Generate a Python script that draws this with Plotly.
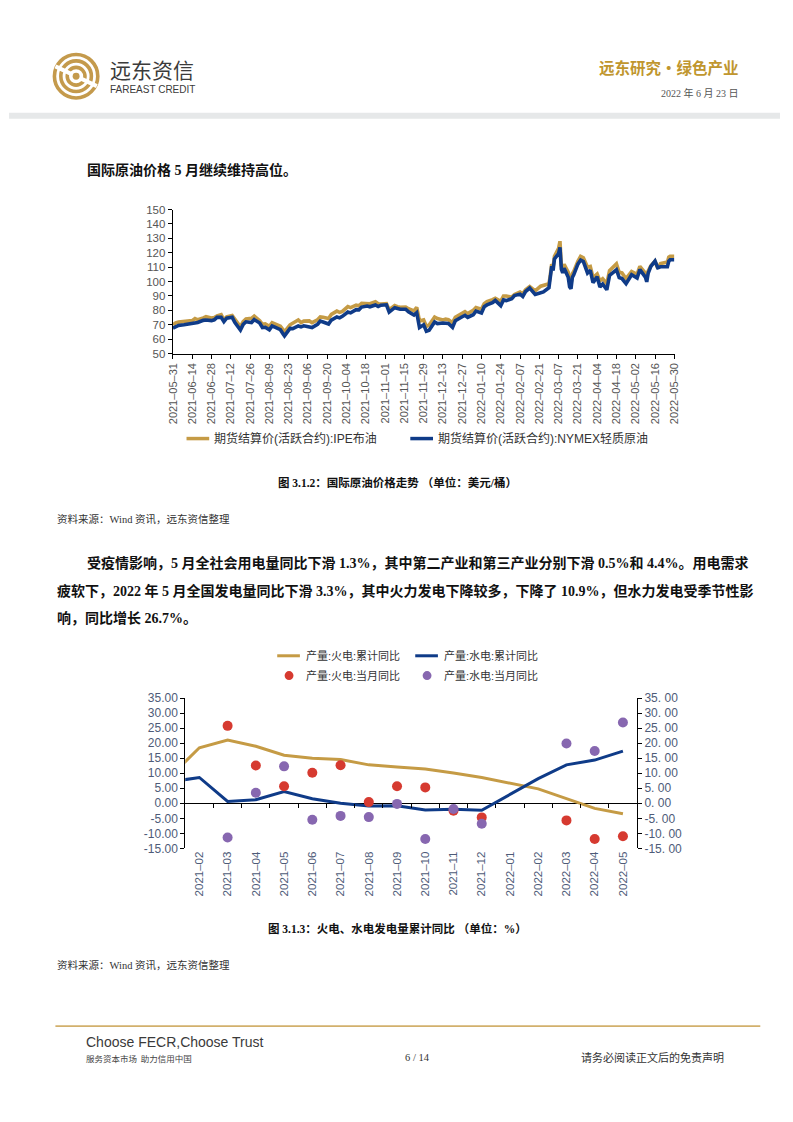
import plotly.graph_objects as go

# page is 793x1122; the browser adds an 8px body margin, so the figure is drawn 16px smaller
OFF = 8
FW, FH = 793 - 2 * OFF, 1122 - 2 * OFF
def px(x): return (x - OFF) / FW
def py(y): return 1 - (y - OFF) / FH

# ---------------- data: chart 1 (oil prices, USD/bbl) ----------------
oil_dates = [
    "2021-05-31","2021-06-02","2021-06-04","2021-06-08","2021-06-10","2021-06-14","2021-06-16","2021-06-18",
    "2021-06-22","2021-06-24","2021-06-28","2021-06-30","2021-07-02","2021-07-05","2021-07-07","2021-07-09",
    "2021-07-13","2021-07-15","2021-07-19","2021-07-21","2021-07-23","2021-07-27","2021-07-29","2021-08-02",
    "2021-08-04","2021-08-06","2021-08-09","2021-08-11","2021-08-13","2021-08-17","2021-08-19","2021-08-20",
    "2021-08-24","2021-08-26","2021-08-30","2021-09-01","2021-09-03","2021-09-07","2021-09-09","2021-09-13",
    "2021-09-15","2021-09-17","2021-09-21","2021-09-23","2021-09-27","2021-09-29","2021-10-01","2021-10-05",
    "2021-10-07","2021-10-11","2021-10-13","2021-10-15","2021-10-19","2021-10-21","2021-10-25","2021-10-27",
    "2021-10-29","2021-11-02","2021-11-04","2021-11-08","2021-11-10","2021-11-12","2021-11-16","2021-11-18",
    "2021-11-22","2021-11-24","2021-11-26","2021-11-29","2021-12-01","2021-12-03","2021-12-07","2021-12-09",
    "2021-12-13","2021-12-15","2021-12-17","2021-12-20","2021-12-22","2021-12-27","2021-12-29","2021-12-31",
    "2022-01-04","2022-01-06","2022-01-10","2022-01-12","2022-01-14","2022-01-18","2022-01-20","2022-01-24",
    "2022-01-26","2022-01-28","2022-02-01","2022-02-03","2022-02-07","2022-02-09","2022-02-11","2022-02-14",
    "2022-02-16","2022-02-18","2022-02-22","2022-02-24","2022-02-28","2022-03-01","2022-03-02","2022-03-03",
    "2022-03-04","2022-03-07","2022-03-08","2022-03-09","2022-03-10","2022-03-11","2022-03-14","2022-03-15",
    "2022-03-16","2022-03-17","2022-03-18","2022-03-21","2022-03-23","2022-03-25","2022-03-28","2022-03-30",
    "2022-04-01","2022-04-04","2022-04-06","2022-04-08","2022-04-11","2022-04-13","2022-04-18","2022-04-20",
    "2022-04-22","2022-04-25","2022-04-27","2022-04-29","2022-05-03","2022-05-05","2022-05-09","2022-05-10",
    "2022-05-11","2022-05-13","2022-05-16","2022-05-18","2022-05-20","2022-05-23","2022-05-25","2022-05-26",
    "2022-05-27","2022-05-30",
]
brent = [
    70.0, 71.4, 71.9, 72.2, 72.5, 72.9, 74.4, 73.5,
    74.8, 75.6, 74.7, 75.1, 76.2, 77.0, 73.4, 75.5,
    76.5, 73.5, 68.6, 72.2, 74.1, 74.5, 76.0, 72.9,
    70.4, 70.7, 69.0, 71.4, 70.6, 69.0, 66.5, 65.2,
    70.0, 71.1, 73.4, 71.6, 72.6, 72.7, 71.5, 73.5,
    75.5, 75.3, 74.4, 77.2, 79.5, 78.6, 79.3, 82.6,
    81.9, 83.6, 83.2, 84.9, 85.1, 84.6, 86.0, 84.6,
    84.4, 84.7, 80.5, 83.4, 82.6, 82.2, 82.4, 81.2,
    79.7, 82.2, 72.7, 73.4, 68.9, 69.9, 75.4, 74.4,
    73.4, 73.9, 73.5, 71.5, 75.3, 78.6, 79.2, 77.8,
    80.0, 82.0, 80.9, 84.7, 86.1, 87.5, 88.4, 86.3,
    90.0, 90.0, 89.2, 91.1, 92.7, 91.5, 94.4, 96.5,
    94.8, 93.5, 96.8, 97.5, 98.5, 104.5, 112.0, 110.0,
    117.5, 123.0, 128.0, 111.1, 109.3, 112.0, 106.5, 100.0,
    98.0, 105.5, 107.0, 114.0, 117.5, 116.5, 110.0, 110.5,
    102.8, 105.3, 100.5, 102.0, 98.5, 107.5, 112.3, 106.5,
    106.0, 102.0, 105.0, 107.0, 105.0, 110.5, 105.9, 102.5,
    107.3, 111.0, 114.2, 109.1, 112.5, 113.0, 113.5, 117.0,
    117.6, 117.6,
]
wti = [
    67.7, 68.8, 69.6, 70.0, 70.3, 70.9, 71.1, 71.6,
    73.1, 73.3, 72.9, 73.5, 75.2, 75.2, 72.2, 74.6,
    75.2, 71.6, 66.4, 70.3, 72.1, 71.6, 73.6, 71.3,
    68.1, 68.3, 66.5, 69.2, 68.4, 66.6, 63.7, 62.3,
    67.5, 67.4, 69.2, 68.6, 69.3, 68.4, 68.1, 70.4,
    72.6, 72.0, 70.6, 73.3, 75.4, 74.8, 75.9, 78.9,
    78.3, 80.5, 80.4, 82.3, 83.0, 82.5, 83.8, 82.7,
    83.6, 83.9, 78.8, 81.9, 81.3, 80.8, 80.8, 79.0,
    76.8, 78.4, 68.1, 70.0, 65.6, 66.3, 72.0, 70.9,
    71.3, 70.9, 70.9, 68.2, 72.8, 75.6, 76.6, 75.2,
    77.0, 79.5, 78.2, 82.6, 83.8, 85.4, 86.9, 83.3,
    87.3, 86.8, 88.2, 90.3, 91.3, 89.7, 93.1, 95.5,
    93.7, 91.1, 92.3, 92.8, 95.7, 103.4, 110.6, 107.7,
    115.7, 119.4, 123.7, 108.7, 106.0, 109.3, 103.0, 96.4,
    95.0, 103.0, 104.7, 112.1, 114.9, 113.9, 106.0, 107.8,
    99.3, 103.3, 96.2, 98.3, 94.3, 104.3, 108.2, 102.8,
    102.1, 98.5, 102.0, 104.7, 102.4, 108.3, 103.1, 99.8,
    105.7, 110.5, 114.2, 109.6, 110.3, 110.3, 110.3, 114.1,
    115.1, 115.1,
]
oil_tick_dates = [
    "2021-05-31","2021-06-14","2021-06-28","2021-07-12","2021-07-26","2021-08-09","2021-08-23",
    "2021-09-06","2021-09-20","2021-10-04","2021-10-18","2021-11-01","2021-11-15","2021-11-29",
    "2021-12-13","2021-12-27","2022-01-10","2022-01-24","2022-02-07","2022-02-21","2022-03-07",
    "2022-03-21","2022-04-04","2022-04-18","2022-05-02","2022-05-16","2022-05-30",
]
oil_names = ["期货结算价(活跃合约):IPE布油", "期货结算价(活跃合约):NYMEX轻质原油"]

# ---------------- data: chart 2 (power generation YoY, %) ----------------
months = ["2021-01","2021-02","2021-03","2021-04","2021-05","2021-06","2021-07","2021-08","2021-09",
          "2021-10","2021-11","2021-12","2022-01","2022-02","2022-03","2022-04","2022-05"]
thermal_cum = [9.2, 18.5, 21.1, 19.0, 16.0, 15.0, 14.6, 12.8, 12.1, 11.4, 10.1, 8.6, None, 4.8, 1.5, -1.7, -3.5]
hydro_cum = [7.2, 8.6, 0.6, 1.2, 3.9, 1.5, 0.0, -0.9, -0.8, -2.2, -2.0, -2.3, None, 8.2, 12.8, 14.4, 17.4]
thermal_month = [None, None, 25.8, 12.6, 5.7, 10.2, 12.7, 0.4, 5.7, 5.3, -2.5, -4.7, None, None, -5.7, -11.9, -11.0]
hydro_month = [None, None, -11.4, 3.5, 12.3, -5.5, -4.2, -4.6, -0.2, -11.9, -1.9, -6.8, None, None, 19.9, 17.4, 26.9]
power_names = ["产量:火电:累计同比", "产量:水电:累计同比", "产量:火电:当月同比", "产量:水电:当月同比"]
y2_ticks = [35, 30, 25, 20, 15, 10, 5, 0, -5, -10, -15]

GOLD = "#c59b45"
BLUE = "#0f3b88"
RED = "#d63a30"
PURPLE = "#8767b0"
TICKC = "#555555"
TICKC2 = "#4e5b78"
SANS = "Liberation Sans, Noto Sans CJK SC, sans-serif"
SERIF = "Liberation Serif, Noto Sans CJK SC, serif"

fig = go.Figure()

fig.add_trace(go.Scatter(x=oil_dates, y=brent, mode="lines", name=oil_names[0],
                         line=dict(color=GOLD, width=3.6), xaxis="x", yaxis="y", showlegend=False))
fig.add_trace(go.Scatter(x=oil_dates, y=wti, mode="lines", name=oil_names[1],
                         line=dict(color=BLUE, width=3.6), xaxis="x", yaxis="y", showlegend=False))

idx = [i - 1 for i in range(len(months))]  # first entry sits just left of the visible range
fig.add_trace(go.Scatter(x=idx, y=thermal_cum, mode="lines", name=power_names[0], connectgaps=True,
                         line=dict(color=GOLD, width=3), xaxis="x3", yaxis="y3", showlegend=False))
fig.add_trace(go.Scatter(x=idx, y=hydro_cum, mode="lines", name=power_names[1], connectgaps=True,
                         line=dict(color=BLUE, width=3), xaxis="x3", yaxis="y3", showlegend=False))
fig.add_trace(go.Scatter(x=idx, y=thermal_month, mode="markers", name=power_names[2],
                         marker=dict(color=RED, size=10), xaxis="x3", yaxis="y3", showlegend=False))
fig.add_trace(go.Scatter(x=idx, y=hydro_month, mode="markers", name=power_names[3],
                         marker=dict(color=PURPLE, size=10), xaxis="x3", yaxis="y3", showlegend=False))
fig.add_trace(go.Scatter(x=[0], y=[None], mode="lines", xaxis="x4", yaxis="y3", showlegend=False,
                         hoverinfo="skip"))
fig.add_trace(go.Scatter(x=[0], y=[None], mode="lines", xaxis="x3", yaxis="y4", showlegend=False,
                         hoverinfo="skip"))

n = len(months) - 1
zero_pos = py(852) + (0 - (-15)) / 50 * (py(700) - py(852))

fig.update_layout(
    width=FW, height=FH, margin=dict(l=0, r=0, t=0, b=0),
    paper_bgcolor="white", plot_bgcolor="rgba(0,0,0,0)",
    xaxis=dict(domain=[px(169), px(678)], anchor="y", type="date",
               range=["2021-05-30 20:00", "2022-05-30 04:00"],
               tickvals=oil_tick_dates, ticktext=[d.replace("-", "–") for d in oil_tick_dates],
               tickangle=-90, ticks="outside", ticklen=4, tickcolor="black",
               showline=True, linecolor="black", linewidth=1, showgrid=False,
               tickfont=dict(family=SANS, size=11, color=TICKC)),
    yaxis=dict(domain=[py(351), py(205)], anchor="x", range=[50, 150], dtick=10,
               ticks="outside", ticklen=4, tickcolor="black", showline=True, linecolor="black",
               linewidth=1, showgrid=False, zeroline=False,
               tickfont=dict(family=SANS, size=11.5, color=TICKC)),
    xaxis3=dict(domain=[px(181.7), px(640)], anchor="y3", range=[-0.5, n - 0.5],
                tickvals=list(range(n)), ticktext=[m.replace("-", "–") for m in months[1:]],
                tickangle=-90, ticks="", showline=False, showgrid=False, zeroline=False,
                tickfont=dict(family=SANS, size=11.5, color=TICKC2)),
    xaxis4=dict(overlaying="x3", anchor="free", position=zero_pos, side="bottom",
                range=[-0.5, n - 0.5], tickvals=[i + 0.5 for i in range(n - 1)],
                ticks="outside", ticklen=4, tickcolor="black", showticklabels=False,
                showline=False, showgrid=False, zeroline=False),
    yaxis3=dict(domain=[py(852), py(700)], anchor="x3", range=[-15, 35],
                tickvals=y2_ticks, ticktext=[f"{v:.2f}" for v in y2_ticks],
                ticks="outside", ticklen=4, tickcolor="black", showline=True, linecolor="black",
                linewidth=1, showgrid=False, zeroline=True, zerolinecolor="black", zerolinewidth=1,
                tickfont=dict(family=SANS, size=12, color=TICKC2)),
    yaxis4=dict(overlaying="y3", anchor="x3", side="right", range=[-15, 35],
                tickvals=y2_ticks, ticktext=[f"{v:.2f}".replace(".", ". ") for v in y2_ticks],
                ticks="outside", ticklen=4, tickcolor="black", showline=True, linecolor="black",
                linewidth=1, showgrid=False, zeroline=False,
                tickfont=dict(family=SANS, size=12, color=TICKC2)),
)

shapes = []
ann = []

def text(x, y, s, size, color="#222", family=SERIF, anchor="left", bold=False):
    if bold:
        s = "<b>" + s + "</b>"
    ann.append(dict(x=px(x), y=py(y), xref="paper", yref="paper", text=s, showarrow=False,
                    xanchor=anchor, yanchor="middle", font=dict(size=size, color=color, family=family)))

def rect(x0, y0, x1, y1, color):
    shapes.append(dict(type="rect", xref="paper", yref="paper", x0=px(x0), x1=px(x1),
                       y0=py(y1), y1=py(y0), fillcolor=color, line=dict(width=0), layer="below"))

def hline(x0, x1, y, color, width):
    shapes.append(dict(type="line", xref="paper", yref="paper", x0=px(x0), x1=px(x1),
                       y0=py(y), y1=py(y), line=dict(color=color, width=width)))

def circle(cx, cy, r, color, width, fill=None):
    shapes.append(dict(type="circle", xref="paper", yref="paper", x0=px(cx - r), x1=px(cx + r),
                       y0=py(cy + r), y1=py(cy - r), line=dict(color=color, width=width),
                       fillcolor=fill if fill else "rgba(0,0,0,0)"))

# ---------------- header ----------------
LOGO = "#c49a4c"
for r in (22, 15.5, 9):
    circle(71, 70, r, LOGO, 3.6)
shapes.append(dict(type="line", xref="paper", yref="paper", x0=px(50), y0=py(60), x1=px(92), y1=py(80),
                   line=dict(color="white", width=4)))
circle(71, 70, 3.5, LOGO, 0, fill=LOGO)
text(103, 63, "远东资信", 21, "#3b3b3b", "Noto Sans CJK SC")
text(103, 83, "FAREAST CREDIT", 10, "#3b3b3b", SANS)
text(745, 61, "远东研究•绿色产业", 15.5, "#c0962e", "Noto Sans CJK SC", anchor="right", bold=True)
text(745, 87, "2022 年 6 月 23 日", 10, "#555", SERIF, anchor="right")
rect(3, 107, 793 - OFF, 113, "#e6e8e9")

# ---------------- body text ----------------
BODY = 14
text(80, 165, "国际原油价格 5 月继续维持高位。", BODY, "#111", SERIF, bold=True)

hline(183, 206, 437, GOLD, 3.5)
text(209, 437, oil_names[0], 12, "#333", SANS)
hline(410, 433, 437, BLUE, 3.5)
text(436, 437, oil_names[1], 12, "#333", SANS)

text(397, 481, "图 3.1.2：国际原油价格走势 （单位：美元/桶）", 11.5, "#111", SERIF, anchor="center", bold=True)
text(50, 518, "资料来源：Wind 资讯，远东资信整理", 10.5, "#333", SERIF)

text(80, 563, "受疫情影响，5 月全社会用电量同比下滑 1.3%，其中第二产业和第三产业分别下滑 0.5%和 4.4%。用电需求", BODY, "#111", SERIF, bold=True)
text(50, 591, "疲软下，2022 年 5 月全国发电量同比下滑 3.3%，其中火力发电下降较多，下降了 10.9%，但水力发电受季节性影", BODY, "#111", SERIF, bold=True)
text(50, 619, "响，同比增长 26.7%。", BODY, "#111", SERIF, bold=True)

hline(275, 298, 657, GOLD, 3)
text(302, 657, power_names[0], 11, "#333", SANS)
hline(415, 438, 657, BLUE, 3)
text(442, 657, power_names[1], 11, "#333", SANS)
circle(287, 677, 4.5, RED, 0, fill=RED)
text(302, 677, power_names[2], 11, "#333", SANS)
circle(427, 677, 4.5, PURPLE, 0, fill=PURPLE)
text(442, 677, power_names[3], 11, "#333", SANS)

text(397, 933, "图 3.1.3：火电、水电发电量累计同比 （单位：%）", 11.5, "#111", SERIF, anchor="center", bold=True)
text(50, 970, "资料来源：Wind 资讯，远东资信整理", 10.5, "#333", SERIF)

# ---------------- footer ----------------
hline(50, 765, 1032, "#d2b06c", 1.8)
text(79, 1048, "Choose FECR,Choose Trust", 14, "#3a3a3a", SANS)
text(79, 1064, "服务资本市场  助力信用中国", 8.5, "#444", "Noto Sans CJK SC")
text(417, 1064, "6 / 14", 10.5, "#333", SERIF, anchor="center")
text(730, 1064, "请务必阅读正文后的免责声明", 11, "#333", SERIF, anchor="right")

fig.update_layout(shapes=shapes, annotations=ann)
fig.write_html("out.html", config={"displayModeBar": False})
